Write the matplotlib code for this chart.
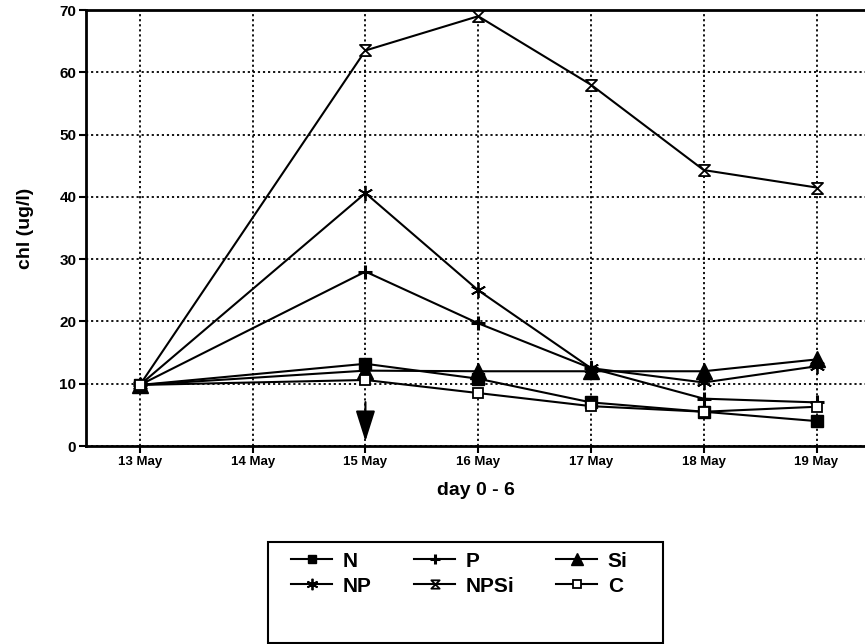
import matplotlib
matplotlib.use("Agg")
import matplotlib.pyplot as plt
from matplotlib.path import Path
from matplotlib.patches import Rectangle

days = ["13 May", "14 May", "15 May", "16 May", "17 May", "18 May", "19 May"]
sample_idx = [0, 2, 3, 4, 5, 6]

N = [9.8, 13.2, 10.8, 7.0, 5.5, 4.0]
P = [9.8, 28.0, 19.7, 12.5, 7.6, 7.0]
Si = [9.8, 12.1, 12.0, 12.0, 12.0, 13.9]
NP = [9.8, 40.6, 25.0, 12.5, 10.2, 12.8]
NPSi = [9.8, 63.5, 69.0, 58.0, 44.3, 41.5]
C = [9.8, 10.6, 8.5, 6.4, 5.5, 6.3]

event_day = 2
yticks = [0, 10, 20, 30, 40, 50, 60, 70]

plt.rcParams['font.family'] = ['Liberation Sans', 'DejaVu Sans']

hourglass = Path([(-1, 1), (1, 1), (-1, -1), (1, -1), (-1, 1)],
                 [Path.MOVETO, Path.LINETO, Path.LINETO, Path.LINETO, Path.CLOSEPOLY])

W, H = 865, 644
fig = plt.figure(figsize=(8.65, 6.44), dpi=100)
ax = fig.add_axes([86/W, 198/H, 1 - 86/W, 436/H])

lw = 1.5
styles = {
    'N': dict(marker='s', ms=8.5, mfc='black', mec='black'),
    'P': dict(marker='+', ms=10, mew=2.2, mec='black'),
    'Si': dict(marker='^', ms=11, mfc='black', mec='black'),
    'NP': dict(marker=(6, 2, 0), ms=11, mew=1.3, mec='black'),
    'NPSi': dict(marker=hourglass, ms=8, mfc='white', mec='black', mew=1.3),
    'C': dict(marker='s', ms=7.5, mfc='white', mec='black', mew=1.3),
}
series = {'N': N, 'P': P, 'Si': Si, 'NP': NP, 'NPSi': NPSi, 'C': C}
handles = {}
for name, vals in series.items():
    h, = ax.plot(sample_idx, vals, color='black', lw=lw, zorder=3, **styles[name])
    handles[name] = h

# event arrow
ax.annotate('', xy=(event_day, 0.3), xytext=(event_day, 7.5),
            arrowprops=dict(arrowstyle='-|>,head_length=1.9,head_width=0.6',
                            color='black', lw=1.5), zorder=4)

ax.set_xlim(-0.478, 6.43)
ax.set_ylim(0, 70)
ax.set_xticks(range(len(days)))
ax.set_xticklabels(days, fontsize=9.5, fontweight='bold')
ax.set_yticks(yticks)
ax.set_yticklabels([str(v) for v in yticks], fontsize=11, fontweight='bold')
ax.grid(True, color='black', linestyle=(0, (1.2, 1.6)), linewidth=1.3)
ax.set_axisbelow(True)
for s in ['left', 'bottom', 'top']:
    ax.spines[s].set_linewidth(2)
ax.spines['right'].set_visible(False)
ax.tick_params(axis='both', direction='out', length=5, width=1.5, pad=2)
ax.set_xlabel('day 0 - 6', fontsize=14, fontweight='bold', labelpad=10)
ax.set_ylabel('chl (ug/l)', fontsize=14, fontweight='bold', labelpad=18)

# legend box
fig.add_artist(Rectangle((268/W, 1 - 643/H), (663 - 268)/W, (643 - 542)/H,
                         transform=fig.transFigure, fill=False,
                         edgecolor='black', linewidth=1.5))
columns = [['N', 'NP'], ['P', 'NPSi'], ['Si', 'C']]
col_x = [274, 397, 539]
for names, cx in zip(columns, col_x):
    lg = fig.legend([handles[k] for k in names], names, ncol=1,
                    loc='upper left', bbox_to_anchor=(cx/W, 1 - 535/H),
                    frameon=False, prop=dict(size=15, weight='bold'),
                    handlelength=2.0, handletextpad=0.5, borderpad=0.3,
                    labelspacing=0.28, markerscale=0.75)

fig.savefig('out.png', dpi=100)
